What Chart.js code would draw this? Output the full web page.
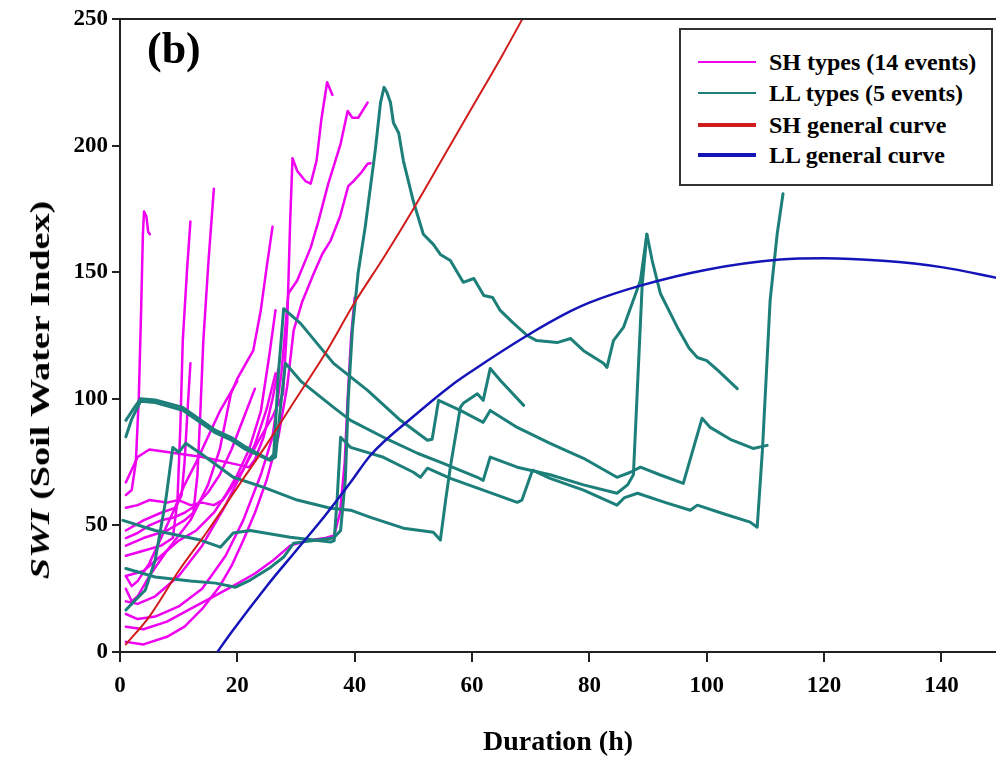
<!DOCTYPE html>
<html>
<head>
<meta charset="utf-8">
<title>SWI vs duration</title>
<script src="https://cdn.jsdelivr.net/npm/chart.js@4.4.1/dist/chart.umd.min.js"></script>
<style>
  body { margin: 0; background: #fff; }
  #wrap { position: relative; width: 996px; height: 760px; font-family: "Liberation Serif", "Times New Roman", serif; font-weight: bold; color: #000; }
  #panel { position: absolute; left: 147px; top: 27px; font-size: 44px; line-height: 1; }
  #ytitle { position: absolute; left: 40px; top: 390px; transform: translate(-50%, -50%) rotate(-90deg) scaleX(1.36); white-space: nowrap; font-size: 28px; }
  #legend { position: absolute; left: 679px; top: 28px; width: 310px; height: 154px; border: 2px solid #333; background: #fff; }
  .row { position: absolute; left: 0; width: 100%; height: 0; }
  .row i { position: absolute; left: 17px; width: 58px; }
  .row span { position: absolute; left: 88px; top: -15px; font-size: 24px; line-height: 30px; white-space: nowrap; }
</style>
</head>
<body>
<div id="wrap">
  <canvas id="myChart" width="996" height="760"></canvas>
  <div id="panel">(b)</div>
  <div id="ytitle"><i>SWI</i> (Soil Water Index)</div>
  <div id="legend"></div>
</div>
<script>
// axis ticks
const xTicks = [0, 20, 40, 60, 80, 100, 120, 140];
const yTicks = [0, 50, 100, 150, 200, 250];

// general curves
const shCurveX = [1, 5, 10, 15, 20, 25, 30, 35, 40, 45, 50, 55, 60, 65, 70];
const shCurveY = [3, 14, 32, 48, 65, 82, 100, 118, 138, 156, 175, 195, 215, 235, 256];
const llCurveX = [16.6, 18.9, 25, 30, 35, 39.3, 42.7, 50, 56.3, 60, 69.4, 76.7, 80, 88.7, 100, 112.5, 120, 130, 140, 150];
const llCurveY = [0, 7.5, 26, 40, 54, 67, 77.7, 93, 105, 111, 125, 134.5, 138, 144.7, 151, 155, 155.5, 154.5, 152, 147.5];

// SH events [duration, SWI]
const sh1 = [[1, 62], [2, 64], [2.7, 75], [3.2, 100], [3.6, 135], [3.9, 165], [4.1, 174], [4.5, 172], [4.8, 166], [5.1, 165]];
const sh2 = [[1, 38], [4, 40], [7, 42], [9, 45], [9.8, 60], [10.3, 90], [10.7, 123], [11.4, 150], [12, 170]];
const sh3 = [[1, 48], [4, 52], [7, 55], [9.5, 57], [10.5, 62], [11, 75], [11.5, 95], [12, 114]];
const sh4 = [[1, 42], [4, 45], [8, 48], [11, 52], [12.5, 55], [13.2, 70], [13.7, 95], [14.2, 123], [15.1, 155], [16, 183]];
const sh5 = [[1, 30], [4, 32], [8, 40], [12, 52], [15, 66], [17, 80], [18.9, 102], [20, 108], [21.7, 115], [22.7, 119], [24, 135], [25, 152], [26, 168]];
const sh6 = [[1, 20], [3, 19], [6, 22], [10, 30], [14, 42], [18, 58], [21, 72], [24, 85], [26, 93], [27.8, 102], [28.5, 130], [29, 170], [29.4, 195], [30.2, 190], [31.6, 186], [32.5, 185], [33.5, 194], [34.3, 210], [35.3, 225], [36.2, 220]];
const sh7 = [[1, 15], [3, 13], [6, 14], [10, 18], [14, 25], [18, 38], [21, 52], [24, 70], [26, 85], [27.5, 110], [28.7, 141.6], [30.2, 146.7], [32.5, 159.7], [33.8, 170], [35.5, 185], [37.6, 200.7], [38.8, 213.7], [39.6, 211], [40.6, 211], [42.2, 217]];
const sh8 = [[1, 4], [4, 3], [8, 6], [11, 10], [14, 17], [17, 26], [19, 34], [21, 44], [23, 55], [25, 68], [27, 85], [28.5, 105], [29.6, 127], [31, 138], [33, 149.4], [34.5, 157.3], [35.9, 162.5], [37.5, 172], [38.9, 184], [39.8, 186], [41, 189], [42.2, 192.8], [42.7, 193]];
const sh9 = [[1, 67], [2, 72], [3, 77], [5, 80], [8, 79], [11, 78], [14, 77], [17, 75.5], [20, 74], [22, 73], [23, 76], [24.5, 85], [26, 100], [27, 112]];
const sh10 = [[1, 57], [3, 58], [5, 60], [8, 59], [10, 60], [12, 58], [14, 59], [16, 58], [17.5, 60], [19, 65], [21, 72], [23, 82], [25, 96], [26.5, 110]];
const sh11 = [[1, 45], [3, 47], [5, 50], [7, 52], [9, 53], [11, 55], [13, 58], [15, 63], [17, 70], [19, 80], [21, 92], [23, 104]];
const sh12 = [[1, 30], [2, 26], [3, 28], [5, 35], [7, 45], [9, 55], [11, 66], [13, 75], [15, 85], [17, 95], [19, 103], [20, 107]];
const sh13 = [[1, 25], [2, 20], [3, 22], [5, 30], [8, 40], [10, 44], [13, 48], [16, 55], [18, 62], [20, 70], [22, 80], [24, 95], [25.5, 118], [26.5, 135]];
const sh14 = [[1, 10], [4, 9], [8, 12], [12, 17], [16, 22], [20, 27], [23, 31], [26, 36], [29, 42], [32, 44], [35, 45], [36.5, 46], [37.5, 55], [38.3, 75], [38.8, 100], [39.4, 125], [40, 140]];

// LL events [duration, SWI]
const ll1 = [[1, 33], [6, 29.6], [12, 28], [16.3, 27.2], [19.7, 25.6], [22.2, 28.4], [25.7, 33.5], [27.9, 37.5], [29.6, 43], [33.6, 44.2], [36.4, 45], [37.6, 48], [38.4, 68], [38.9, 100], [39.6, 127], [40.6, 150], [41.8, 168], [43.5, 198], [44.4, 217], [45, 223], [45.5, 221], [46.1, 217], [46.6, 209], [47.5, 205], [48.3, 194], [50, 178], [51.7, 165], [53.4, 161], [54.6, 157], [56.3, 154.6], [58.5, 146], [60.3, 147.5], [62, 140.8], [63.5, 140], [64.8, 134.9], [67, 130], [69.4, 125], [71, 123], [74.5, 122.2], [76.8, 123.8], [79, 119], [82.4, 114], [83, 112.4], [84.1, 123], [85.8, 128.2], [88.7, 146.7], [89.8, 165], [90.7, 154.6], [92.1, 141.6], [95, 128.2], [97, 120], [98.4, 116.3], [100, 115.1], [102, 111], [105.2, 104]];
const ll2 = [[1, 91.5], [2, 95], [3.5, 100], [6, 99.5], [10.7, 96.6], [16.3, 87.5], [18.9, 84.8], [21.4, 81], [25.4, 76], [26.2, 78], [27, 110], [27.9, 135.6], [30.8, 129.7], [36.4, 114], [42.2, 103.3], [47.8, 91.5], [52.4, 83.6], [53.2, 84], [54.3, 99.4], [58, 95.4], [61.9, 90.7], [63.1, 95.4], [67.7, 88.7], [73.3, 82.4], [79, 76.5], [84.7, 69], [87, 71], [88.7, 73], [92, 70], [96, 66.6], [99.2, 92.3], [100.6, 88.7], [104, 84], [107.9, 80.4], [110.3, 81.6]];
const ll3 = [[1, 85], [2, 92], [3.5, 99], [6, 98.5], [10.7, 95.5], [16.3, 86.5], [18.9, 83.8], [21.4, 80], [25.6, 75.7], [26.5, 77], [27.5, 100], [28.2, 114], [30.8, 107], [36.4, 96.6], [39.3, 91.5], [44.9, 84.8], [50.7, 78.5], [55.1, 74.5], [60.9, 69], [61.9, 67.8], [63.1, 77], [67.7, 73], [73.3, 70], [79, 66], [84.7, 62.7], [86.5, 66], [87.5, 70], [88.3, 110], [89, 145], [89.8, 165]];
const ll4 = [[0.5, 52], [6, 48], [13.7, 44.2], [17.1, 41.4], [19.3, 47], [22.2, 48], [29, 45.3], [35.9, 43.4], [36.5, 44], [37, 60], [37.6, 84.8], [39.3, 80.8], [44.9, 76.9], [50, 71], [51.2, 69], [52.4, 72.6], [56.3, 68.6], [61.9, 63.9], [67.7, 59.1], [68.5, 60], [70.3, 71.8], [73.3, 68.6], [79, 63.9], [84.7, 58], [86, 61], [88.2, 62.7], [93, 59], [97.2, 56], [98.4, 58], [103, 54.5], [107.4, 51.3], [108.6, 49.3], [109.5, 80], [110.8, 138.8], [112, 165], [113, 181]];
const ll5 = [[1, 16.6], [2.6, 20.5], [4.3, 24.4], [6, 36.3], [7.8, 60], [9, 80.8], [10, 78.9], [11.2, 82.4], [13.7, 78.5], [19.3, 69], [24.5, 65], [30.2, 60], [35.9, 56.8], [39.3, 56], [42.7, 53.2], [48.3, 48.9], [53.4, 47.3], [54.6, 44.2], [55.5, 60], [56.3, 73], [58, 96.6], [58.5, 98.2], [60.9, 102], [61.9, 99.4], [63.1, 112], [64.8, 107.3], [68.8, 97.4]];

const shEvents = [sh1, sh2, sh3, sh4, sh5, sh6, sh7, sh8, sh9, sh10, sh11, sh12, sh13, sh14];
const llEvents = [ll1, ll2, ll3, ll4, ll5];

const MAGENTA = "#f000f0";
const TEAL = "#1d7f7a";
const RED = "#d01c1c";
const BLUE = "#1414b8";
const FONT = "'Liberation Serif', 'Times New Roman', serif";

const legendItems = [
  { text: "SH types (14 events)", color: MAGENTA, width: 2 },
  { text: "LL types (5 events)", color: TEAL, width: 2 },
  { text: "SH general curve", color: RED, width: 4 },
  { text: "LL general curve", color: BLUE, width: 4 },
];

const toPts = arr => arr.map(([x, y]) => ({ x, y }));

const datasets = [];
datasets.push({
  label: "SH general curve",
  data: shCurveX.map((x, i) => ({ x, y: shCurveY[i] })),
  borderColor: RED, borderWidth: 2, cubicInterpolationMode: "monotone", order: 0,
});
datasets.push({
  label: "LL general curve",
  data: llCurveX.map((x, i) => ({ x, y: llCurveY[i] })),
  borderColor: BLUE, borderWidth: 2.5, cubicInterpolationMode: "monotone", order: 0,
});
llEvents.forEach((ev, i) => {
  datasets.push({ label: "LL " + (i + 1), data: toPts(ev), borderColor: TEAL, borderWidth: 3, tension: 0, order: 1 });
});
shEvents.forEach((ev, i) => {
  datasets.push({ label: "SH " + (i + 1), data: toPts(ev), borderColor: MAGENTA, borderWidth: 2.5, tension: 0, order: 2 });
});

// legend box in the top right corner
const legend = document.getElementById("legend");
const rowTops = [32, 63, 95, 125];
legendItems.forEach((item, i) => {
  const row = document.createElement("div");
  row.className = "row";
  row.style.top = rowTops[i] + "px";
  const line = document.createElement("i");
  line.style.height = item.width + "px";
  line.style.top = -item.width / 2 + "px";
  line.style.background = item.color;
  const label = document.createElement("span");
  label.textContent = item.text;
  row.appendChild(line);
  row.appendChild(label);
  legend.appendChild(row);
});

// top frame line
const frameTop = {
  id: "frameTop",
  afterDraw(chart) {
    const { ctx, chartArea } = chart;
    ctx.save();
    ctx.strokeStyle = "#222";
    ctx.lineWidth = 2;
    ctx.beginPath();
    ctx.moveTo(chartArea.left - 8, chartArea.top);
    ctx.lineTo(chartArea.right, chartArea.top);
    ctx.stroke();
    ctx.restore();
  },
};

new Chart("myChart", {
  type: "line",
  data: { datasets },
  plugins: [frameTop],
  options: {
    responsive: false,
    animation: false,
    devicePixelRatio: 1,
    layout: { padding: { top: 19, right: 0, left: 0, bottom: 0 } },
    elements: { point: { radius: 0 }, line: { borderJoinStyle: "round", borderCapStyle: "round" } },
    plugins: { legend: { display: false }, tooltip: { enabled: false } },
    scales: {
      x: {
        type: "linear",
        min: 0,
        max: 149.3,
        afterFit: s => { s.height = 108; },
        afterBuildTicks: s => { s.ticks = xTicks.map(v => ({ value: v })); },
        ticks: { font: { family: FONT, size: 23, weight: "bold" }, color: "#000", padding: 10, maxRotation: 0 },
        grid: { display: true, drawOnChartArea: false, tickLength: 10, color: "#222", lineWidth: 2 },
        border: { display: true, color: "#222", width: 2 },
        title: { display: true, text: "Duration (h)", font: { family: FONT, size: 28, weight: "bold" }, color: "#000", padding: { top: 0, bottom: 0 } },
      },
      y: {
        min: 0,
        max: 250,
        afterFit: s => { s.width = 120; },
        afterBuildTicks: s => { s.ticks = yTicks.map(v => ({ value: v })); },
        ticks: { font: { family: FONT, size: 23, weight: "bold" }, color: "#000", padding: 4 },
        grid: { display: true, drawOnChartArea: false, tickLength: 8, color: "#222", lineWidth: 2 },
        border: { display: true, color: "#222", width: 2 },
      },
    },
  },
});
</script>
</body>
</html>
